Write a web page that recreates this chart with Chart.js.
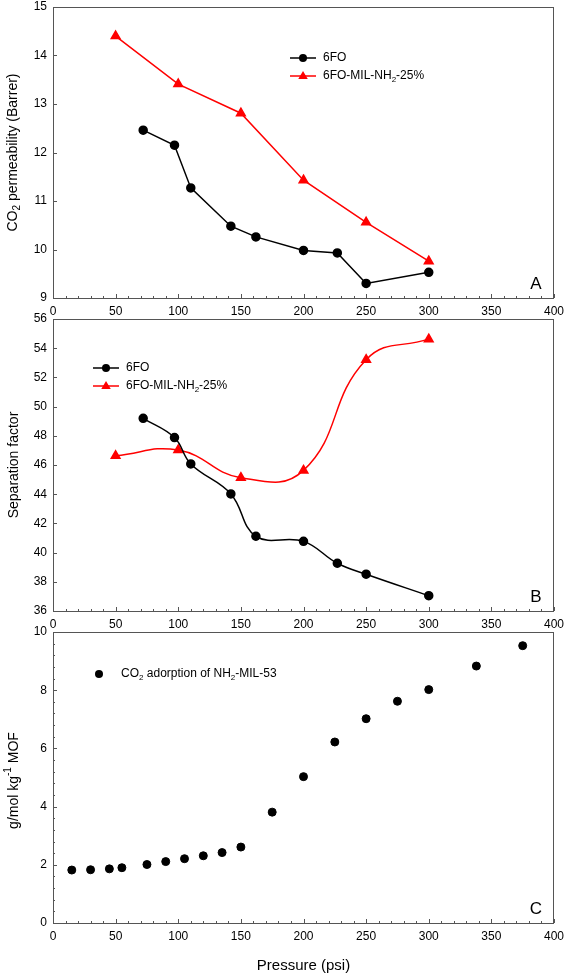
<!DOCTYPE html>
<html lang="en">
<head>
    <meta charset="UTF-8">
    <title>CO2 permeability, separation factor and adsorption</title>
    <script src="https://cdn.jsdelivr.net/npm/chart.js"></script>
    <style>
        body { margin: 0; background: #fff; }
        #wrap { position: relative; width: 566px; height: 975px; }
        canvas { position: absolute; left: 0; }
    </style>
</head>
<body>
    <div id="wrap">
        <canvas id="chartA" width="566" height="320" style="top:0px"></canvas>
        <canvas id="chartB" width="566" height="330" style="top:305px"></canvas>
        <canvas id="chartC" width="566" height="350" style="top:625px"></canvas>
    </div>

    <script>
        // panel A - CO2 permeability
        const pressA6fo = [72, 97, 110, 142, 162, 200, 227, 250, 300];
        const permA6fo = [12.46, 12.15, 11.27, 10.48, 10.26, 9.98, 9.93, 9.30, 9.53];
        const pressAMil = [50, 100, 150, 200, 250, 300];
        const permAMil = [14.40, 13.41, 12.81, 11.43, 10.56, 9.76];

        // panel B - separation factor
        const pressB6fo = [72, 97, 110, 142, 162, 200, 227, 250, 300];
        const sepB6fo = [49.20, 47.88, 46.07, 44.02, 41.12, 40.77, 39.27, 38.52, 37.05];
        const pressBMil = [50, 100, 150, 200, 250, 300];
        const sepBMil = [46.63, 47.02, 45.13, 45.63, 53.21, 54.62];

        // panel C - adsorption of NH2-MIL-53
        const pressC = [15, 30, 45, 55, 75, 90, 105, 120, 135, 150, 175, 200, 225, 250, 275, 300, 338, 375];
        const adsC = [1.82, 1.83, 1.86, 1.90, 2.01, 2.11, 2.21, 2.31, 2.42, 2.61, 3.81, 5.03, 6.22, 7.02, 7.62, 8.02, 8.83, 9.53];

        const labels6fo = '6FO';
        const labelsMil = '6FO-MIL-NH₂-25%';
        const labelAds = 'CO₂ adorption of NH₂-MIL-53';

        const FONT = '"Liberation Sans", Arial, sans-serif';

        function pts(xs, ys) {
            return xs.map((x, i) => ({ x: x, y: ys[i] }));
        }

        // draw text, turning ₂ into a subscript and ⁻¹ into a superscript
        const SUB = { '₂': '2' };
        const SUP = { '⁻': '-', '¹': '1' };
        function richParts(str) {
            return Array.from(str).map(ch => {
                if (SUB[ch]) return { t: SUB[ch], k: 'sub' };
                if (SUP[ch]) return { t: SUP[ch], k: 'sup' };
                return { t: ch, k: 'n' };
            });
        }
        function drawRich(ctx, str, x, y, size, align) {
            const parts = richParts(str);
            const small = Math.round(size * 0.68);
            let w = 0;
            parts.forEach(p => {
                ctx.font = (p.k === 'n' ? size : small) + 'px ' + FONT;
                p.w = ctx.measureText(p.t).width;
                w += p.w;
            });
            let cx = align === 'center' ? x - w / 2 : x;
            ctx.textAlign = 'left';
            ctx.textBaseline = 'middle';
            parts.forEach(p => {
                ctx.font = (p.k === 'n' ? size : small) + 'px ' + FONT;
                let dy = 0;
                if (p.k === 'sub') dy = size * 0.32;
                if (p.k === 'sup') dy = -size * 0.38;
                ctx.fillText(p.t, cx, y + dy);
                cx += p.w;
            });
        }

        function marker(ctx, style, x, y, r, color) {
            ctx.fillStyle = color;
            ctx.beginPath();
            if (style === 'triangle') {
                ctx.moveTo(x, y - r);
                ctx.lineTo(x + r * 0.95, y + r * 0.6);
                ctx.lineTo(x - r * 0.95, y + r * 0.6);
                ctx.closePath();
            } else {
                ctx.arc(x, y, r, 0, Math.PI * 2);
            }
            ctx.fill();
        }

        // frame, inward ticks, axis titles, legend and panel letter
        const decorPlugin = {
            id: 'decor',
            afterDraw(chart, args, o) {
                const ctx = chart.ctx;
                const a = chart.chartArea;
                const xs = chart.scales.x;
                const ys = chart.scales.y;
                ctx.save();

                ctx.strokeStyle = '#555';
                ctx.lineWidth = 1;
                ctx.strokeRect(a.left + 0.5, a.top + 0.5, a.right - a.left - 1, a.bottom - a.top);

                ctx.beginPath();
                for (let v = xs.min; v <= xs.max + 1e-9; v += 10) {
                    const px = Math.round(xs.getPixelForValue(v)) + 0.5;
                    const len = (v % 50 === 0) ? 4 : 2;
                    ctx.moveTo(px, a.bottom);
                    ctx.lineTo(px, a.bottom - len);
                }
                for (let v = ys.min; v <= ys.max + 1e-9; v += o.yMinor) {
                    const py = Math.round(ys.getPixelForValue(v)) + 0.5;
                    const major = Math.abs(v / o.yMajor - Math.round(v / o.yMajor)) < 1e-6;
                    ctx.moveTo(a.left, py);
                    ctx.lineTo(a.left + (major ? 4 : 2), py);
                }
                ctx.stroke();

                ctx.fillStyle = '#000';
                ctx.save();
                ctx.translate(o.yTitleX, (a.top + a.bottom) / 2 + o.yTitleDy);
                ctx.rotate(-Math.PI / 2);
                drawRich(ctx, o.yTitle, 0, 0, 14, 'center');
                ctx.restore();

                if (o.xTitle) {
                    ctx.fillStyle = '#000';
                    drawRich(ctx, o.xTitle, (a.left + a.right) / 2, a.bottom + 43, 15, 'center');
                }

                chart.data.datasets.forEach((ds, i) => {
                    const y = o.legendY + i * o.legendGap;
                    const x0 = o.legendX;
                    if (ds.showLine !== false) {
                        ctx.strokeStyle = ds.borderColor;
                        ctx.lineWidth = 1.5;
                        ctx.beginPath();
                        ctx.moveTo(x0, y);
                        ctx.lineTo(x0 + 26, y);
                        ctx.stroke();
                    }
                    marker(ctx, ds.pointStyle, x0 + 13, y, ds.pointStyle === 'triangle' ? 5 : 4, ds.backgroundColor);
                    ctx.fillStyle = '#000';
                    drawRich(ctx, ds.label, x0 + o.legendTextDx, y, 12, 'left');
                });

                ctx.fillStyle = '#000';
                ctx.font = '17px ' + FONT;
                ctx.textAlign = 'center';
                ctx.textBaseline = 'middle';
                ctx.fillText(o.letter, a.right - 18, a.bottom - 14);

                ctx.restore();
            }
        };

        function makeChart(id, datasets, yMin, yMax, yStep, xHeight, padTop, decor) {
            return new Chart(document.getElementById(id).getContext('2d'), {
                type: 'scatter',
                data: { datasets: datasets },
                options: {
                    responsive: false,
                    animation: false,
                    devicePixelRatio: 1,
                    layout: { padding: { top: padTop, right: 12, left: 0, bottom: 0 } },
                    plugins: { legend: { display: false }, tooltip: { enabled: false }, decor: decor },
                    scales: {
                        x: {
                            type: 'linear', min: 0, max: 400,
                            ticks: { stepSize: 50, color: '#000', padding: 6, font: { family: FONT, size: 12 } },
                            grid: { display: false, drawTicks: false },
                            border: { display: false },
                            afterFit: s => { s.height = xHeight; s.paddingLeft = 0; s.paddingRight = 0; }
                        },
                        y: {
                            min: yMin, max: yMax,
                            ticks: { stepSize: yStep, color: '#000', padding: 6, font: { family: FONT, size: 12 } },
                            grid: { display: false, drawTicks: false },
                            border: { display: false },
                            afterFit: s => { s.width = 53; s.paddingTop = 0; s.paddingBottom = 0; }
                        }
                    }
                },
                plugins: [decorPlugin]
            });
        }

        makeChart('chartA', [
            {
                label: labels6fo, data: pts(pressA6fo, permA6fo), showLine: true,
                borderColor: '#000', backgroundColor: '#000', borderWidth: 1.5,
                pointStyle: 'circle', pointRadius: 4, tension: 0
            },
            {
                label: labelsMil, data: pts(pressAMil, permAMil), showLine: true,
                borderColor: '#ff0000', backgroundColor: '#ff0000', borderWidth: 1.5,
                pointStyle: 'triangle', pointRadius: 5, tension: 0
            }
        ], 9, 15, 1, 22, 7, {
            yMajor: 1, yMinor: 1, yTitle: 'CO₂ permeability (Barrer)', yTitleX: 13, yTitleDy: 0,
            legendX: 290, legendY: 58, legendGap: 18, legendTextDx: 33, letter: 'A'
        });

        makeChart('chartB', [
            {
                label: labels6fo, data: pts(pressB6fo, sepB6fo), showLine: true,
                borderColor: '#000', backgroundColor: '#000', borderWidth: 1.5,
                pointStyle: 'circle', pointRadius: 4, tension: 0.4
            },
            {
                label: labelsMil, data: pts(pressBMil, sepBMil), showLine: true,
                borderColor: '#ff0000', backgroundColor: '#ff0000', borderWidth: 1.5,
                pointStyle: 'triangle', pointRadius: 5, tension: 0.45
            }
        ], 36, 56, 2, 24, 14, {
            yMajor: 2, yMinor: 2, yTitle: 'Separation factor', yTitleX: 14, yTitleDy: 0,
            legendX: 93, legendY: 63, legendGap: 18, legendTextDx: 33, letter: 'B'
        });

        makeChart('chartC', [
            {
                label: labelAds, data: pts(pressC, adsC), showLine: false,
                borderColor: '#000', backgroundColor: '#000',
                pointStyle: 'circle', pointRadius: 4
            }
        ], 0, 10, 2, 52, 7, {
            yMajor: 2, yMinor: 0.4, yTitle: 'g/mol kg⁻¹ MOF', yTitleX: 14, yTitleDy: 3,
            legendX: 86, legendY: 49, legendGap: 18, legendTextDx: 35, letter: 'C', xTitle: 'Pressure (psi)'
        });
    </script>
</body>
</html>
